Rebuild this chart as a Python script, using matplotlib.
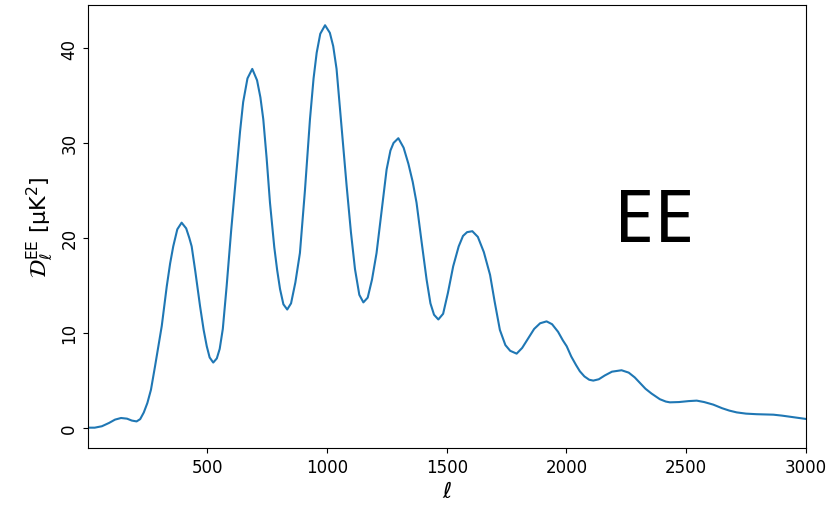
import numpy as np
import matplotlib
matplotlib.use('Agg')
import matplotlib.pyplot as plt

# EE spectrum, values
ell = [2, 30, 60, 90, 115, 140, 165, 185, 205, 220, 235, 250, 265, 282, 296,
       310, 331, 345, 358, 375, 393, 412, 425, 435, 450, 470, 485, 498, 510,
       525, 540, 552, 565, 581, 600, 623, 637, 650, 668, 688, 708, 722, 734,
       748, 762, 780, 792, 804, 818, 834, 850, 868, 887, 908, 929, 944, 957,
       972, 992, 1012, 1026, 1040, 1060, 1082, 1100, 1117, 1135, 1152, 1170,
       1188, 1207, 1228, 1249, 1265, 1278, 1298, 1320, 1340, 1358, 1374, 1395,
       1416, 1432, 1447, 1465, 1485, 1505, 1527, 1550, 1568, 1585, 1607, 1630,
       1655, 1681, 1700, 1722, 1745, 1765, 1792, 1815, 1840, 1865, 1890, 1917,
       1940, 1965, 1985, 2001, 2020, 2040, 2056, 2075, 2095, 2112, 2135, 2160,
       2190, 2230, 2260, 2285, 2307, 2330, 2355, 2390, 2415, 2432, 2470, 2510,
       2544, 2575, 2613, 2650, 2680, 2711, 2750, 2794, 2830, 2864, 2900, 2940,
       2970, 3000]
dl_ee = [0.0, 0.0, 0.15, 0.5, 0.85, 1.02, 0.95, 0.75, 0.66, 0.9, 1.6, 2.6, 4.0,
         6.47, 8.6, 10.7, 14.9, 17.3, 19.1, 20.9, 21.6, 21.0, 20.0, 19.1, 16.5,
         12.8, 10.3, 8.58, 7.4, 6.86, 7.3, 8.3, 10.4, 14.9, 20.8, 27.2, 31.2,
         34.3, 36.8, 37.8, 36.6, 34.8, 32.5, 28.4, 23.7, 19.0, 16.6, 14.6, 13.0,
         12.45, 13.1, 15.3, 18.4, 25.0, 32.5, 36.8, 39.5, 41.5, 42.4, 41.6, 40.2,
         37.8, 32.0, 25.5, 20.6, 16.7, 14.0, 13.2, 13.7, 15.6, 18.4, 22.8, 27.2,
         29.2, 30.0, 30.5, 29.5, 27.8, 25.9, 23.7, 19.6, 15.6, 13.1, 11.9, 11.4,
         12.0, 14.2, 17.0, 19.1, 20.2, 20.6, 20.7, 20.1, 18.5, 16.1, 13.3, 10.3,
         8.7, 8.1, 7.8, 8.4, 9.4, 10.4, 11.0, 11.2, 10.9, 10.1, 9.2, 8.58, 7.5,
         6.6, 5.94, 5.4, 5.05, 4.96, 5.1, 5.5, 5.9, 6.05, 5.8, 5.3, 4.72, 4.1,
         3.6, 3.0, 2.75, 2.67, 2.7, 2.8, 2.85, 2.7, 2.43, 2.05, 1.8, 1.61, 1.48,
         1.42, 1.40, 1.37, 1.27, 1.13, 1.03, 0.92]

fig, ax = plt.subplots(figsize=(8.3, 5.1), dpi=100)
fig.subplots_adjust(left=0.106, right=0.971, top=0.988, bottom=0.12)

ax.plot(ell, dl_ee)
ax.set_xlim(2, 3000)
ax.text(2365, 21.7, 'EE', fontsize=52, family='Noto Sans', fontweight='medium',
        ha='center', va='center')

ax.set_xlabel(r'$\ell$', fontsize=16)
ax.set_ylabel(r'$\mathcal{D}_\ell^{\rm EE}$ [µK$^2$]', fontsize=16)
ax.tick_params(labelsize=12)
plt.setp(ax.get_yticklabels(), rotation=90, va='center')

fig.savefig('out.png')
